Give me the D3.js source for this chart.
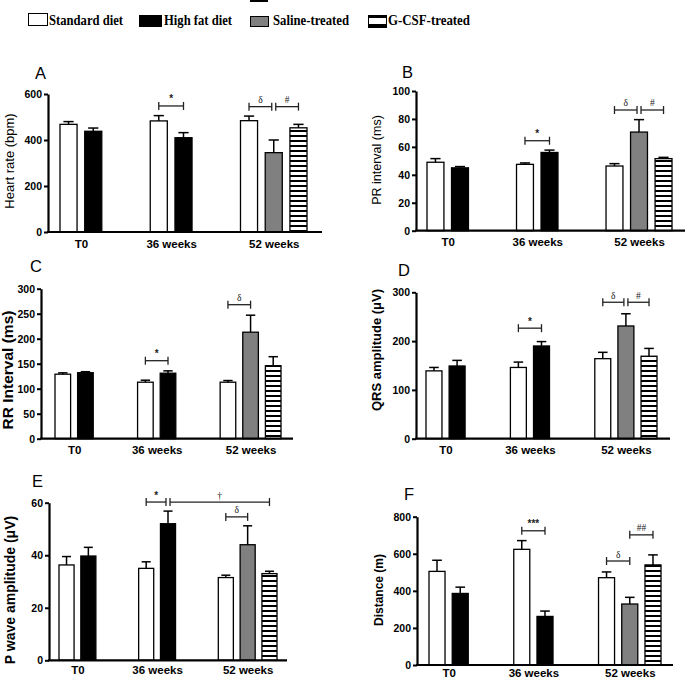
<!DOCTYPE html>
<html>
<head>
<meta charset="utf-8">
<script src="https://cdn.jsdelivr.net/npm/d3@7"></script>
<style>
  html, body { margin: 0; padding: 0; background: #fff; }
  svg { display: block; }
</style>
</head>
<body>
<svg id="chart" width="685" height="679"></svg>
<script>
// ---------------- DATA ----------------
const groups = ["T0", "36 weeks", "52 weeks"];
const seriesNames = ["Standard diet", "High fat diet", "Saline-treated", "G-CSF-treated"];
// series index of each bar, per group
const groupSeries = [[0, 1], [0, 1], [0, 2, 3]];

// bar order: T0 std, T0 HFD, 36w std, 36w HFD, 52w std, 52w saline, 52w G-CSF
const heartRate      = [468, 438, 483, 410, 484, 345, 453];
const heartRateSEM   = [12, 14, 23, 22, 20, 55, 15];
const prInterval     = [49, 45, 47.5, 56, 46.3, 70.6, 51.6];
const prIntervalSEM  = [2.6, 0.9, 1, 1.7, 1.7, 8.9, 0.9];
const rrInterval     = [129, 132, 113, 131, 113, 213, 146];
const rrIntervalSEM  = [2.7, 2, 4, 4.7, 3.3, 34, 18];
const qrsAmplitude   = [139, 149, 146, 190, 164, 231, 169];
const qrsAmplitudeSEM= [7, 11.5, 11, 9, 13, 25, 16];
const pWaveAmplitude = [36.3, 39.7, 35, 52, 31.5, 44, 33];
const pWaveAmplitudeSEM = [3.2, 3.3, 2.5, 4.8, 0.9, 7.2, 0.9];
const distance       = [505, 386, 624, 262, 471, 329, 540];
const distanceSEM    = [60, 34, 47, 29, 31, 36, 54];

const heartRateTicks = [0, 200, 400, 600];
const prTicks        = [0, 20, 40, 60, 80, 100];
const rrTicks        = [0, 50, 100, 150, 200, 250, 300];
const qrsTicks       = [0, 100, 200, 300];
const pWaveTicks     = [0, 20, 40, 60];
const distanceTicks  = [0, 200, 400, 600, 800];

const panelLetters = ["A", "B", "C", "D", "E", "F"];
const yTitles = ["Heart rate (bpm)", "PR interval (ms)", "RR Interval (ms)",
                 "QRS amplitude (\u03bcV)", "P wave amplitude (\u03bcV)", "Distance (m)"];

// significance brackets: [fromBar, toBar, level, label]
const heartRateSig = [[2, 3, 548, "*"], [4, 5, 545, "\u03b4"], [5, 6, 545, "#"]];
const prSig        = [[2, 3, 64.4, "*"], [4, 5, 86.4, "\u03b4"], [5, 6, 86.4, "#"]];
const rrSig        = [[2, 3, 156, "*"], [4, 5, 268, "\u03b4"]];
const qrsSig       = [[2, 3, 226.5, "*"], [4, 5, 279.6, "\u03b4"], [5, 6, 279.6, "#"]];
const pWaveSig     = [[2, 3, 60.25, "*"], [3, 6, 60.25, "\u2020"], [4, 5, 54.6, "\u03b4"]];
const distanceSig  = [[2, 3, 724, "***"], [4, 5, 561, "\u03b4"], [5, 6, 702, "##"]];

const panelValues = [heartRate, prInterval, rrInterval, qrsAmplitude, pWaveAmplitude, distance];
const panelErrors = [heartRateSEM, prIntervalSEM, rrIntervalSEM, qrsAmplitudeSEM, pWaveAmplitudeSEM, distanceSEM];
const panelTicks  = [heartRateTicks, prTicks, rrTicks, qrsTicks, pWaveTicks, distanceTicks];
const panelSig    = [heartRateSig, prSig, rrSig, qrsSig, pWaveSig, distanceSig];

// ---------------- LAYOUT (positions / styles) ----------------
const layouts = [
  {axisX: 48,  y0: 232,   yTop: 94,    xEnd: 322, barStart: 60,  barEnd: 307, lx: 35,  ly: 79,  tx: 9,   ty: 161, tSize: 13,   tWeight: "normal", xlab: 16},
  {axisX: 416, y0: 230.7, yTop: 91,    xEnd: 685, barStart: 427, barEnd: 672, lx: 402, ly: 78,  tx: 377, ty: 160, tSize: 12.5, tWeight: "normal", xlab: 15},
  {axisX: 41,  y0: 438.7, yTop: 288.7, xEnd: 293, barStart: 55,  barEnd: 281, lx: 30,  ly: 272, tx: 7,   ty: 370, tSize: 15.5, tWeight: "bold",   xlab: 15.5},
  {axisX: 416, y0: 438.7, yTop: 292.3, xEnd: 670, barStart: 426, barEnd: 657, lx: 398, ly: 276, tx: 376, ty: 350, tSize: 13,   tWeight: "600",    xlab: 15.5},
  {axisX: 49,  y0: 660.3, yTop: 502.7, xEnd: 287, barStart: 59,  barEnd: 277, lx: 32,  ly: 487, tx: 10,  ty: 590, tSize: 14,   tWeight: "bold",   xlab: 14},
  {axisX: 417, y0: 665,   yTop: 516.7, xEnd: 673, barStart: 429, barEnd: 661, lx: 404, ly: 500, tx: 379, ty: 590, tSize: 12,   tWeight: "bold",   xlab: 11.5}
];
const GROUP_GAP = 2.65;   // in bar slots
const BAR_FRAC = 0.69;    // bar width as fraction of slot
const XLAB_SIZE = 11.5;
const fills = ["#ffffff", "#000000", "#808080", "url(#stripes)"];

const svg = d3.select("#chart");
const defs = svg.append("defs");
const pat = defs.append("pattern").attr("id", "stripes")
  .attr("patternUnits", "userSpaceOnUse").attr("width", 10).attr("height", 5);
pat.append("rect").attr("width", 10).attr("height", 5).attr("fill", "#fff");
pat.append("rect").attr("width", 10).attr("height", 2).attr("fill", "#000");

// stray mark at top of the figure
svg.append("rect").attr("x", 250).attr("y", 0).attr("width", 18).attr("height", 2).attr("fill", "#000");

// ---------------- LEGEND ----------------
const legendBoxes = [
  {x: 28, y: 13, w: 20, h: 13}, {x: 139, y: 15, w: 23, h: 12},
  {x: 250, y: 16, w: 19, h: 11}, {x: 368, y: 15, w: 19, h: 13}
];
const legendText = [{x: 49, w: 74}, {x: 164, w: 68}, {x: 273, w: 76}, {x: 388, w: 82}];
seriesNames.forEach((name, i) => {
  const b = legendBoxes[i];
  if (i === 3) {
    svg.append("rect").attr("x", b.x).attr("y", b.y).attr("width", b.w).attr("height", b.h)
      .attr("fill", "#000");
    svg.append("rect").attr("x", b.x + 1).attr("y", b.y + 3).attr("width", b.w - 2).attr("height", b.h - 7)
      .attr("fill", "#fff");
  } else {
    svg.append("rect").attr("x", b.x + 0.5).attr("y", b.y + 0.5).attr("width", b.w - 1).attr("height", b.h - 1)
      .attr("fill", fills[i]).attr("stroke", "#000").attr("stroke-width", 1);
  }
  svg.append("text").attr("x", legendText[i].x).attr("y", 24.5)
    .attr("font-family", "'Liberation Serif', 'Times New Roman', serif")
    .attr("font-weight", "bold").attr("font-size", 14.5)
    .attr("textLength", legendText[i].w).attr("lengthAdjust", "spacingAndGlyphs")
    .text(name);
});

// ---------------- PANELS ----------------
// slot index of each bar
const barSlots = [], barSeries = [], barGroup = [];
{
  let s = 0;
  groupSeries.forEach((ser, gi) => {
    ser.forEach(si => { barSlots.push(s); barSeries.push(si); barGroup.push(gi); s += 1; });
    s += GROUP_GAP - 1;
  });
}
const lastSlot = barSlots[barSlots.length - 1];

panelValues.forEach((vals, p) => {
  const L = layouts[p];
  const errs = panelErrors[p];
  const ticks = panelTicks[p];
  const g = svg.append("g");

  const y = d3.scaleLinear().domain([0, d3.max(ticks)]).range([L.y0, L.yTop]);
  const x = d3.scaleLinear().domain([0, lastSlot + BAR_FRAC]).range([L.barStart, L.barEnd]);
  const bw = x(BAR_FRAC) - x(0);

  // panel letter
  g.append("text").attr("x", L.lx).attr("y", L.ly)
    .attr("font-family", "'Liberation Sans', Arial, sans-serif").attr("font-size", 16.5)
    .text(panelLetters[p]);

  // y title
  g.append("text").attr("transform", `translate(${L.tx},${L.ty}) rotate(-90)`)
    .attr("text-anchor", "middle").attr("dominant-baseline", "central")
    .attr("font-family", "'Liberation Sans', Arial, sans-serif")
    .attr("font-size", L.tSize).attr("font-weight", L.tWeight)
    .text(yTitles[p]);

  // bars
  const bars = vals.map((v, i) => ({v, e: errs[i], slot: barSlots[i], s: barSeries[i]}));
  g.selectAll("rect.bar").data(bars).enter().append("rect")
    .attr("class", "bar")
    .attr("x", d => x(d.slot))
    .attr("y", d => y(d.v))
    .attr("width", bw)
    .attr("height", d => y(0) - y(d.v))
    .attr("fill", d => fills[d.s])
    .attr("stroke", "#000").attr("stroke-width", 1.3);

  // error bars (upper only)
  const capW = bw * 0.6;
  const eg = g.selectAll("g.err").data(bars).enter().append("g").attr("class", "err");
  eg.append("line")
    .attr("x1", d => x(d.slot) + bw / 2).attr("x2", d => x(d.slot) + bw / 2)
    .attr("y1", d => y(d.v)).attr("y2", d => y(d.v + d.e))
    .attr("stroke", "#000").attr("stroke-width", 1.5);
  eg.append("line")
    .attr("x1", d => x(d.slot) + bw / 2 - capW / 2).attr("x2", d => x(d.slot) + bw / 2 + capW / 2)
    .attr("y1", d => y(d.v + d.e)).attr("y2", d => y(d.v + d.e))
    .attr("stroke", "#000").attr("stroke-width", 1.5);

  // y axis
  const yAxis = d3.axisLeft(y).tickValues(ticks).tickSize(4).tickSizeOuter(0).tickPadding(2)
    .tickFormat(d3.format("d"));
  const ya = g.append("g").attr("transform", `translate(${L.axisX},0)`).call(yAxis);
  ya.select(".domain").attr("stroke", "#000").attr("stroke-width", 2.2);
  ya.selectAll(".tick line").attr("stroke", "#000").attr("stroke-width", 2);
  ya.selectAll(".tick text").attr("font-family", "'Liberation Sans', Arial, sans-serif")
    .attr("font-size", 10.5).attr("font-weight", "bold").attr("fill", "#000");

  // x axis line
  g.append("line").attr("x1", L.axisX - 1).attr("x2", L.xEnd)
    .attr("y1", L.y0).attr("y2", L.y0).attr("stroke", "#000").attr("stroke-width", 2.2);

  // group labels
  const centers = groups.map((gname, gi) => {
    const idx = barGroup.map((gg, i) => gg === gi ? i : -1).filter(i => i >= 0);
    return (x(barSlots[idx[0]]) + x(barSlots[idx[idx.length - 1]]) + bw) / 2;
  });
  const xs = d3.scaleOrdinal().domain(groups).range(centers);
  const xa = g.append("g").attr("transform", `translate(0,${L.y0})`)
    .call(d3.axisBottom(xs).tickSize(0).tickPadding(L.xlab - 0.71 * XLAB_SIZE));
  xa.select(".domain").remove();
  xa.selectAll(".tick text").attr("font-family", "'Liberation Sans', Arial, sans-serif")
    .attr("font-size", XLAB_SIZE).attr("font-weight", "bold").attr("fill", "#000");

  // significance brackets
  const sig = panelSig[p];
  const centerOf = i => x(barSlots[i]) + bw / 2;
  sig.forEach(([a, b, lvl, lab]) => {
    const yy = y(lvl);
    const sharedStart = sig.some(s2 => s2[1] === a && Math.abs(s2[2] - lvl) < 1e-6);
    const sharedEnd = sig.some(s2 => s2[0] === b && Math.abs(s2[2] - lvl) < 1e-6);
    const x1 = centerOf(a) + (sharedStart ? 2 : 0);
    const x2 = centerOf(b) - (sharedEnd ? 2 : 0);
    const sg = g.append("g");
    sg.append("line").attr("x1", x1).attr("x2", x2).attr("y1", yy).attr("y2", yy)
      .attr("stroke", "#222").attr("stroke-width", 1.3);
    [x1, x2].forEach(xx => sg.append("line").attr("x1", xx).attr("x2", xx)
      .attr("y1", yy - 4).attr("y2", yy + 4).attr("stroke", "#222").attr("stroke-width", 1.3));
    sg.append("text").attr("x", (x1 + x2) / 2).attr("y", yy - 3.5)
      .attr("text-anchor", "middle")
      .attr("font-family", lab.startsWith("*") ? "'Liberation Sans', Arial, sans-serif" : "'Liberation Serif', serif")
      .attr("font-size", lab.startsWith("*") ? 10 : 9.5)
      .attr("font-weight", lab.startsWith("*") ? "bold" : "normal")
      .attr("fill", "#222")
      .text(lab);
  });
});
</script>
</body>
</html>
